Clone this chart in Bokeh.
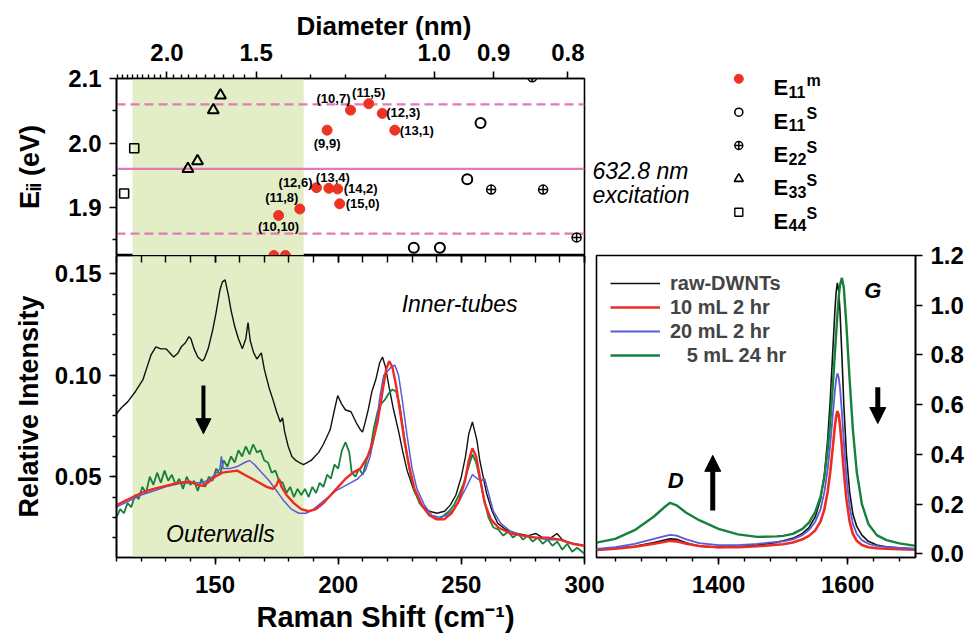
from bokeh.plotting import figure
from bokeh.models import (Range1d, LinearAxis, FixedTicker, BoxAnnotation, Span, Label, Title,
                          Arrow, NormalHead, CustomJSTickFormatter, NumeralTickFormatter,
                          ColumnDataSource)
from bokeh.layouts import column, row
from bokeh.embed import file_html
from bokeh.resources import INLINE
from bokeh.core.properties import value

FONT = "Liberation Sans"

# ------------------------------------------------------------------ data
# Kataura-type points (Raman shift cm-1, transition energy eV)
e11m_w = [175.8, 184.4, 191.2, 196.2, 199.8, 200.6, 195.5, 205.0, 212.4, 217.9, 223.0, 173.9, 178.6]
e11m_E = [1.888, 1.898, 1.931, 1.930, 1.929, 1.906, 2.020, 2.051, 2.061, 2.046, 2.020, 1.826, 1.826]
e11m_lab = ["(10,10)", "(11,8)", "(12,6)", "(13,4)", "(14,2)", "(15,0)", "(9,9)",
            "(10,7)", "(11,5)", "(12,3)", "(13,1)", "", ""]
e11s_w = [257.8, 252.4, 230.7, 241.3]
e11s_E = [2.031, 1.944, 1.838, 1.838]
e22s_w = [278.8, 262.1, 283.2, 296.8]
e22s_E = [2.102, 1.928, 1.928, 1.854]
e33s_w = [152.2, 149.3, 142.9, 139.0]
e33s_E = [2.074, 2.051, 1.972, 1.960]
e44s_w = [117.2, 113.1]
e44s_E = [1.992, 1.922]

laser_eV = [1.86, 1.96, 2.06]          # excitation +/- resonance window
outer_range = [116.5, 186.0]            # shaded outer-wall RBM range (cm-1)

diam_ticks = [2.0, 1.5, 1.0, 0.9, 0.8]
diam_minor = [2.45, 2.4, 2.35, 2.3, 2.25, 2.2, 2.15, 2.1, 2.05, 1.95, 1.9, 1.85, 1.8,
              1.75, 1.7, 1.65, 1.6, 1.55, 1.4, 1.3, 1.2, 1.1]
RBM_A, RBM_B = 217.0, 22.0              # w = A/d + B

# RBM spectra
raw_w = [110, 112, 114.6, 117.7, 120.8, 122.4, 124, 126, 128, 130.1, 131.7, 133.2, 135, 136.3,
         138, 139.4, 140.2, 141.5, 143, 144.8, 145.6, 147.2, 149, 150.3, 152, 153, 154.1, 155.5,
         156.5, 158, 159.5, 161.1, 162.5, 163.4, 164.3, 165.7, 167, 168.8, 170, 171.9, 173.5,
         175, 176.5, 177.4, 178.3, 179.7, 181.2, 182.8, 184.3, 185.9, 187.4, 189, 190.5, 192.1,
         194, 196.7, 198.5, 199.8, 201.3, 202.9, 205.2, 207.6, 209.1, 209.9, 211, 212.2, 213.7,
         215.3, 216.8, 218.0, 219.2, 220.7, 222.3, 224.6, 226.1, 228, 230.8, 233.9, 237, 240.1,
         243.2, 245.5, 247.8, 250, 251.7, 253, 254.5, 256.3, 257.5, 260.2, 262.5, 264.8, 268,
         272.6, 277.2, 280.3, 283, 286.5, 288.8, 291, 292.7, 295.8, 300]
raw_I = [0.081, 0.084, 0.087, 0.092, 0.098, 0.104, 0.110, 0.114, 0.113, 0.113, 0.111, 0.109,
         0.111, 0.114, 0.116, 0.119, 0.118, 0.113, 0.109, 0.107, 0.108, 0.113, 0.122, 0.130,
         0.142, 0.146, 0.147, 0.139, 0.132, 0.124, 0.118, 0.113, 0.118, 0.126, 0.117, 0.111,
         0.108, 0.111, 0.103, 0.094, 0.088, 0.082, 0.077, 0.079, 0.072, 0.065, 0.060, 0.058,
         0.057, 0.056, 0.057, 0.058, 0.060, 0.062, 0.066, 0.073, 0.083, 0.090, 0.086, 0.083,
         0.082, 0.076, 0.073, 0.072, 0.077, 0.083, 0.092, 0.098, 0.106, 0.109, 0.104, 0.094,
         0.084, 0.072, 0.063, 0.053, 0.043, 0.036, 0.033, 0.032, 0.033, 0.036, 0.041, 0.050,
         0.060, 0.071, 0.077, 0.068, 0.058, 0.042, 0.033, 0.027, 0.024, 0.022, 0.021, 0.022,
         0.020, 0.020, 0.022, 0.019, 0.018, 0.017, 0.016]

red_w = [110, 115, 120, 125, 130, 135, 140, 143, 145, 147, 150, 153, 156, 159, 162, 165, 168,
         171, 173.5, 175, 176, 177, 179, 182, 185, 188, 191, 194, 197, 200, 203, 206, 209, 212,
         214, 216, 218, 219.5, 220.7, 222, 223.5, 225, 227, 229, 231, 234, 237, 240, 243, 246,
         249, 251.5, 253, 254.5, 256, 257.5, 259.5, 262, 265, 270, 275, 280, 285, 290, 295, 300]
red_I = [0.036, 0.039, 0.042, 0.044, 0.0455, 0.047, 0.0475, 0.046, 0.0455, 0.047, 0.050, 0.052,
         0.0525, 0.053, 0.051, 0.049, 0.047, 0.045, 0.044, 0.046, 0.049, 0.045, 0.041, 0.037,
         0.034, 0.033, 0.034, 0.037, 0.041, 0.045, 0.049, 0.052, 0.054, 0.060, 0.067, 0.077,
         0.092, 0.103, 0.107, 0.104, 0.095, 0.083, 0.067, 0.054, 0.044, 0.036, 0.031, 0.029,
         0.029, 0.032, 0.038, 0.048, 0.058, 0.064, 0.060, 0.050, 0.037, 0.029, 0.025, 0.022,
         0.021, 0.020, 0.020, 0.019, 0.017, 0.016]

blue_w = [110, 115, 120, 125, 130, 135, 140, 145, 148, 150, 152, 152.6, 153.3, 156, 159, 162,
          164, 166, 169, 172, 175, 178, 181, 184, 187, 190, 193, 196, 199, 202, 205, 208, 211,
          213, 215, 217, 218.5, 220, 221.5, 223, 224.5, 226, 228, 230, 232, 235, 238, 241, 244,
          247, 250, 252.5, 254.5, 256.5, 258, 259.5, 261, 263, 266, 270, 275, 280, 285, 290,
          295, 300]
blue_I = [0.035, 0.038, 0.041, 0.043, 0.045, 0.0465, 0.047, 0.047, 0.049, 0.051, 0.054, 0.060,
          0.054, 0.054, 0.055, 0.057, 0.058, 0.056, 0.052, 0.048, 0.043, 0.038, 0.034, 0.032,
          0.032, 0.034, 0.037, 0.040, 0.043, 0.045, 0.047, 0.049, 0.053, 0.060, 0.072, 0.090,
          0.100, 0.102, 0.104, 0.105, 0.100, 0.088, 0.070, 0.054, 0.044, 0.036, 0.031, 0.030,
          0.031, 0.034, 0.040, 0.046, 0.051, 0.049, 0.048, 0.049, 0.042, 0.033, 0.027, 0.023,
          0.021, 0.020, 0.019, 0.019, 0.017, 0.016]

green_w = [110, 111.5, 113, 114.5, 116, 117.5, 119, 120.5, 122, 123.5, 125, 126.5, 128, 129.5,
           131, 132.5, 134, 135.5, 137, 138.5, 140, 141.5, 143, 144.5, 146, 147.5, 149, 150.5,
           152, 153.5, 155, 156.5, 158, 159.5, 161, 162.5, 164, 165.5, 167, 168.5, 170, 171.5,
           173, 174.5, 176, 177.5, 179, 180.5, 182, 183.5, 185, 186.5, 188, 189.5, 191, 192.5,
           194, 195.5, 197, 198.5, 200, 201.5, 203, 204.5, 205.5, 207, 208.5, 210, 211.5, 213,
           214.5, 216, 217.5, 219, 220.5, 222, 223.5, 225, 226.5, 228, 229.5, 231, 233, 235,
           237, 239, 241, 243, 245, 247, 249, 251, 253, 254.5, 256, 257.5, 259, 261, 263, 265,
           267, 269, 271, 273, 275, 277, 279, 281, 283, 285, 287, 289, 291, 293, 295, 297, 300]
green_I = [0.030, 0.034, 0.032, 0.037, 0.035, 0.041, 0.039, 0.045, 0.042, 0.050, 0.046, 0.052,
           0.047, 0.053, 0.048, 0.051, 0.046, 0.049, 0.044, 0.050, 0.046, 0.048, 0.043, 0.049,
           0.045, 0.050, 0.048, 0.054, 0.051, 0.058, 0.055, 0.060, 0.057, 0.063, 0.060, 0.065,
           0.061, 0.066, 0.062, 0.063, 0.058, 0.057, 0.052, 0.053, 0.048, 0.047, 0.042, 0.045,
           0.040, 0.044, 0.041, 0.044, 0.040, 0.045, 0.042, 0.047, 0.045, 0.051, 0.049, 0.056,
           0.054, 0.063, 0.067, 0.062, 0.052, 0.050, 0.054, 0.051, 0.058, 0.063, 0.074, 0.082,
           0.086, 0.088, 0.091, 0.093, 0.092, 0.085, 0.072, 0.060, 0.050, 0.043, 0.037, 0.034,
           0.031, 0.030, 0.029, 0.031, 0.033, 0.036, 0.041, 0.047, 0.055, 0.061, 0.057, 0.049,
           0.040, 0.030, 0.025, 0.024, 0.021, 0.023, 0.020, 0.022, 0.019, 0.021, 0.018, 0.020,
           0.017, 0.019, 0.016, 0.018, 0.014, 0.017, 0.013, 0.015, 0.012]

# D / G band spectra
dg_w = [1211, 1240, 1270, 1300, 1315, 1325, 1335, 1350, 1370, 1400, 1430, 1460, 1490,
        1500, 1515, 1530, 1540, 1550, 1558, 1564, 1569, 1573, 1577, 1580, 1582, 1584, 1586,
        1588, 1591, 1594, 1598, 1603, 1608, 1614, 1622, 1632, 1645, 1660, 1680, 1705]
dg_raw = [0.018, 0.022, 0.030, 0.045, 0.054, 0.060, 0.058, 0.044, 0.030, 0.025, 0.028, 0.035,
          0.046, 0.052, 0.062, 0.082, 0.105, 0.150, 0.220, 0.320, 0.460, 0.620, 0.820, 0.970,
          1.050, 1.090, 1.060, 0.980, 0.800, 0.600, 0.400, 0.250, 0.160, 0.110, 0.075, 0.050,
          0.035, 0.028, 0.024, 0.020]
dg_10 = [0.015, 0.020, 0.028, 0.040, 0.047, 0.052, 0.050, 0.040, 0.031, 0.026, 0.026, 0.030,
         0.036, 0.038, 0.045, 0.058, 0.072, 0.095, 0.130, 0.180, 0.250, 0.330, 0.430, 0.510,
         0.550, 0.574, 0.560, 0.520, 0.430, 0.330, 0.220, 0.130, 0.080, 0.052, 0.035, 0.026,
         0.022, 0.020, 0.018, 0.016]
dg_20 = [0.020, 0.027, 0.040, 0.060, 0.070, 0.076, 0.073, 0.058, 0.043, 0.035, 0.035, 0.040,
         0.048, 0.050, 0.058, 0.075, 0.095, 0.130, 0.180, 0.250, 0.340, 0.440, 0.560, 0.650,
         0.700, 0.726, 0.710, 0.670, 0.570, 0.450, 0.310, 0.190, 0.120, 0.080, 0.055, 0.040,
         0.032, 0.027, 0.024, 0.020]
dg_5 = [0.045, 0.060, 0.095, 0.150, 0.185, 0.205, 0.195, 0.165, 0.135, 0.100, 0.078, 0.068,
        0.070, 0.072, 0.080, 0.100, 0.125, 0.170, 0.230, 0.310, 0.420, 0.530, 0.680, 0.800,
        0.880, 0.960, 1.030, 1.080, 1.110, 1.070, 0.920, 0.700, 0.500, 0.330, 0.200, 0.120,
        0.075, 0.055, 0.042, 0.032]

series_names = ["raw-DWNTs", "10 mL 2 hr", "20 mL 2 hr", "\u00a0\u00a0\u00a05 mL 24 hr"]
C_BLACK, C_RED, C_BLUE, C_GREEN = "#111111", "#ee2a24", "#5b5bd6", "#17803a"
C_PINK = "#e27ab8"
C_SHADE = "#e3edc6"
C_DOT = "#ee3322"


def style_axis(ax, size="24px"):
    ax.axis_line_color = "black"
    ax.axis_line_width = 1.6
    ax.major_tick_line_color = "black"
    ax.minor_tick_line_color = "black"
    ax.major_tick_line_width = 1.6
    ax.minor_tick_line_width = 1.4
    ax.major_tick_out = 7
    ax.major_tick_in = 0
    ax.minor_tick_out = 4
    ax.minor_tick_in = 0
    ax.major_label_text_font = FONT
    ax.major_label_text_font_style = "bold"
    ax.major_label_text_font_size = size
    ax.major_label_text_color = "black"
    ax.axis_label_text_font = FONT
    ax.axis_label_text_font_style = "bold"
    ax.axis_label_text_font_size = "27px"
    ax.axis_label_text_color = "black"


def base_fig(**kw):
    p = figure(output_backend="svg", toolbar_location=None, title=None, **kw)
    p.frame_align = False
    p.grid.visible = False
    p.outline_line_color = "black"
    p.outline_line_width = 1.6
    p.background_fill_color = "white"
    p.border_fill_color = "white"
    return p


# ------------------------------------------------------------------ top panel
p_top = base_fig(width=588, height=255, x_range=Range1d(110, 300), y_range=Range1d(1.826, 2.1),
                 x_axis_location="above", min_border_left=116, min_border_right=4,
                 min_border_top=78, min_border_bottom=0)
p_top.add_layout(BoxAnnotation(left=outer_range[0], right=outer_range[1], fill_color=C_SHADE,
                               fill_alpha=1, line_color=None, level="underlay"))
for e in laser_eV:
    p_top.add_layout(Span(location=e, dimension="width", line_color=C_PINK, line_width=2.2,
                          line_dash="solid" if e == laser_eV[1] else "9 5", level="underlay"))

xa = p_top.xaxis[0]
style_axis(xa)
xa.ticker = FixedTicker(ticks=[RBM_A / d + RBM_B for d in diam_ticks],
                        minor_ticks=[RBM_A / d + RBM_B for d in diam_minor])
xa.formatter = CustomJSTickFormatter(args=dict(A=RBM_A, B=RBM_B),
                                     code="return (A/(tick-B)).toFixed(1);")
xa.major_label_standoff = 11

ya = p_top.yaxis[0]
style_axis(ya)
ya.ticker = FixedTicker(ticks=[1.9, 2.0, 2.1], minor_ticks=[1.85, 1.95, 2.05])
ya.formatter = NumeralTickFormatter(format="0.0")
ya.axis_label = "E\u1d62\u1d62 (eV)"
ya.major_label_standoff = 8
ya.axis_label_standoff = 20

p_top.add_layout(Title(text="Diameter (nm)", align="left", offset=180, standoff=0,
                       text_font=FONT, text_font_style="bold", text_font_size="26px",
                       text_color="black"), "above")

p_top.scatter(e11m_w, e11m_E, marker="circle", size=10, fill_color=C_DOT, line_color=C_DOT)
p_top.scatter(e11s_w, e11s_E, marker="circle", size=10, fill_color=None, line_color="black",
              line_width=2)
p_top.scatter(e22s_w, e22s_E, marker="circle_cross", size=9, fill_color=None,
              line_color="black", line_width=1.5)
p_top.scatter(e33s_w, e33s_E, marker="triangle", size=11, fill_color=None, line_color="black",
              line_width=2)
p_top.scatter(e44s_w, e44s_E, marker="square", size=9, fill_color=None, line_color="black",
              line_width=1.6)

# chirality label placement (pixel offsets / alignment)
lab_off = {"(10,10)": (0, 11, "center"), "(11,8)": (-18, -11, "center"),
           "(12,6)": (-4, -5, "right"), "(13,4)": (4, -11, "center"),
           "(14,2)": (6, 0, "left"), "(15,0)": (6, 0, "left"), "(9,9)": (0, 13, "center"),
           "(10,7)": (0, -12, "right"), "(11,5)": (0, -11, "center"),
           "(12,3)": (4, -1, "left"), "(13,1)": (5, 0, "left")}
lx, ly, lt, lxo, lyo, la = [], [], [], [], [], []
for w, E, t in zip(e11m_w, e11m_E, e11m_lab):
    if t:
        o = lab_off[t]
        lx.append(w); ly.append(E); lt.append(t)
        lxo.append(o[0]); lyo.append(o[1]); la.append(o[2])
p_top.text(x="x", y="y", text="t", x_offset="xo", y_offset="yo", text_align="a",
           source=ColumnDataSource(dict(x=lx, y=ly, t=lt, xo=lxo, yo=lyo, a=la)),
           text_baseline="middle", text_font=value(FONT), text_font_style="bold",
           text_font_size="13px", text_color="black")

# ------------------------------------------------------------------ legend + note (top right)
p_leg = figure(width=388, height=255, x_range=Range1d(588, 976), y_range=Range1d(255, 0),
               x_axis_location=None, y_axis_location=None, min_border=0, title=None,
               output_backend="svg", toolbar_location=None)
p_leg.frame_align = False
p_leg.outline_line_color = None
p_leg.grid.visible = False
p_leg.text(x=[592, 592], y=[170, 194], text=["632.8 nm", "excitation"], text_font=value(FONT),
           text_font_style="italic", text_font_size="23px", text_color="black",
           text_baseline="middle")
leg_rows = [78.3, 111.7, 145.0, 178.3, 211.7]
leg_sub = ["11", "11", "22", "33", "44"]
leg_sup = ["m", "S", "S", "S", "S"]
mk = 738.3
p_leg.scatter([mk], [leg_rows[0]], marker="circle", size=9, fill_color=C_DOT, line_color=C_DOT)
p_leg.scatter([mk], [leg_rows[1]], marker="circle", size=8, fill_color=None, line_color="black",
              line_width=1.6)
p_leg.scatter([mk], [leg_rows[2]], marker="circle_cross", size=8, fill_color=None,
              line_color="black", line_width=1.4)
p_leg.scatter([mk], [leg_rows[3]], marker="triangle", size=9, fill_color=None,
              line_color="black", line_width=1.6)
p_leg.scatter([mk], [leg_rows[4]], marker="square", size=8, fill_color=None,
              line_color="black", line_width=1.4)
p_leg.text(x=[773] * 5, y=[c + 9 for c in leg_rows], text=["E"] * 5, text_font=value(FONT),
           text_font_style="bold", text_font_size="22px", text_color="black",
           text_baseline="alphabetic")
p_leg.text(x=[788] * 5, y=[c + 13 for c in leg_rows], text=leg_sub, text_font=value(FONT),
           text_font_style="bold", text_font_size="16px", text_color="black",
           text_baseline="alphabetic")
p_leg.text(x=[806] * 5, y=[c + 1.5 for c in leg_rows], text=leg_sup, text_font=value(FONT),
           text_font_style="bold", text_font_size="16px", text_color="black",
           text_baseline="alphabetic")

# ------------------------------------------------------------------ RBM panel
p_bot = base_fig(width=618, height=382, x_range=Range1d(110, 300),
                 y_range=Range1d(0.0102, 0.159), min_border_left=116, min_border_right=34,
                 min_border_top=0, min_border_bottom=80)
p_bot.add_layout(BoxAnnotation(left=outer_range[0], right=outer_range[1], fill_color=C_SHADE,
                               fill_alpha=1, line_color=None, level="underlay"))
p_bot.line(raw_w, raw_I, line_color=C_BLACK, line_width=1.4)
p_bot.line(green_w, green_I, line_color=C_GREEN, line_width=1.8)
p_bot.line(blue_w, blue_I, line_color=C_BLUE, line_width=1.5)
p_bot.line(red_w, red_I, line_color=C_RED, line_width=2.4)

bx = p_bot.xaxis[0]
style_axis(bx)
bx.ticker = FixedTicker(ticks=[150, 200, 250, 300], minor_ticks=list(range(110, 301, 10)))
bx.major_label_standoff = 11
by = p_bot.yaxis[0]
style_axis(by)
by.ticker = FixedTicker(ticks=[0.05, 0.10, 0.15],
                        minor_ticks=[0.02, 0.03, 0.04, 0.05, 0.06, 0.07, 0.08, 0.09, 0.10,
                                     0.11, 0.12, 0.13, 0.14, 0.15])
by.formatter = NumeralTickFormatter(format="0.00")
by.axis_label = "Relative Intensity"
by.major_label_standoff = 8
by.axis_label_standoff = 8

p_bot.add_layout(Title(text="Raman Shift (cm\u207b\u00b9)", align="left", offset=140,
                       standoff=7, text_font=FONT, text_font_style="bold",
                       text_font_size="29px", text_color="black"), "below")

top_mirror = LinearAxis(ticker=FixedTicker(ticks=[150, 200, 250, 300],
                                           minor_ticks=list(range(110, 301, 10))))
style_axis(top_mirror, size="1px")
top_mirror.major_tick_in = 7
top_mirror.major_tick_out = 0
top_mirror.minor_tick_in = 7
top_mirror.minor_tick_out = 0
top_mirror.major_label_text_color = None
top_mirror.major_label_standoff = 0
p_bot.add_layout(top_mirror, "above")

p_bot.add_layout(Label(x=249.3, y=0.1353, text="Inner-tubes", text_align="center",
                       text_baseline="middle", text_font=FONT, text_font_style="italic",
                       text_font_size="23px", text_color="black"))
p_bot.add_layout(Label(x=152.2, y=0.0219, text="Outerwalls", text_align="center",
                       text_baseline="middle", text_font=FONT, text_font_style="italic",
                       text_font_size="23px", text_color="black"))
p_bot.add_layout(Arrow(x_start=145.3, y_start=0.095, x_end=145.3, y_end=0.0712,
                       line_width=4, line_color="black",
                       end=NormalHead(size=15, fill_color="black", line_color="black")))

# ------------------------------------------------------------------ D/G inset
p_ins = base_fig(width=386, height=397, x_range=Range1d(1211, 1705),
                 y_range=Range1d(-0.015, 1.2), y_axis_location="right",
                 min_border_left=6, min_border_right=61, min_border_top=15,
                 min_border_bottom=80)
p_ins.border_fill_color = None
p_ins.margin = (-15, 0, 0, -28)
p_ins.line(dg_w, dg_raw, line_color=C_BLACK, line_width=1.6, legend_label=series_names[0])
p_ins.line(dg_w, dg_10, line_color=C_RED, line_width=2.6, legend_label=series_names[1])
p_ins.line(dg_w, dg_20, line_color=C_BLUE, line_width=1.8, legend_label=series_names[2])
p_ins.line(dg_w, dg_5, line_color=C_GREEN, line_width=2.4, legend_label=series_names[3])
ix = p_ins.xaxis[0]
style_axis(ix)
ix.ticker = FixedTicker(ticks=[1400, 1600], minor_ticks=list(range(1240, 1701, 40)))
ix.major_label_standoff = 11
iy = p_ins.yaxis[0]
style_axis(iy)
iy.ticker = FixedTicker(ticks=[0.0, 0.2, 0.4, 0.6, 0.8, 1.0, 1.2])
iy.formatter = NumeralTickFormatter(format="0.0")
iy.major_label_standoff = 8

lg = p_ins.legend[0]
lg.location = (14, 190)
lg.border_line_color = None
lg.background_fill_alpha = 0
lg.label_text_font = FONT
lg.label_text_font_style = "bold"
lg.label_text_font_size = "20px"
lg.glyph_width = 50
lg.glyph_height = 24
lg.label_height = 24
lg.spacing = 0
lg.padding = 14
lg.margin = 0
lg.label_standoff = 10

p_ins.add_layout(Label(x=1333.5, y=0.295, text="D", text_align="center",
                       text_baseline="middle", text_font=FONT, text_font_style="bold italic",
                       text_font_size="22px", text_color="black"))
p_ins.add_layout(Label(x=1639, y=1.059, text="G", text_align="center",
                       text_baseline="middle", text_font=FONT, text_font_style="bold italic",
                       text_font_size="22px", text_color="black"))
p_ins.add_layout(Arrow(x_start=1391, y_start=0.174, x_end=1391, y_end=0.396,
                       line_width=5, line_color="black",
                       end=NormalHead(size=16, fill_color="black", line_color="black")))
p_ins.add_layout(Arrow(x_start=1646.6, y_start=0.67, x_end=1646.6, y_end=0.524,
                       line_width=5, line_color="black",
                       end=NormalHead(size=16, fill_color="black", line_color="black")))

layout = column(row(p_top, p_leg), row(p_bot, p_ins))
open("out.html", "w").write(file_html(layout, INLINE))
